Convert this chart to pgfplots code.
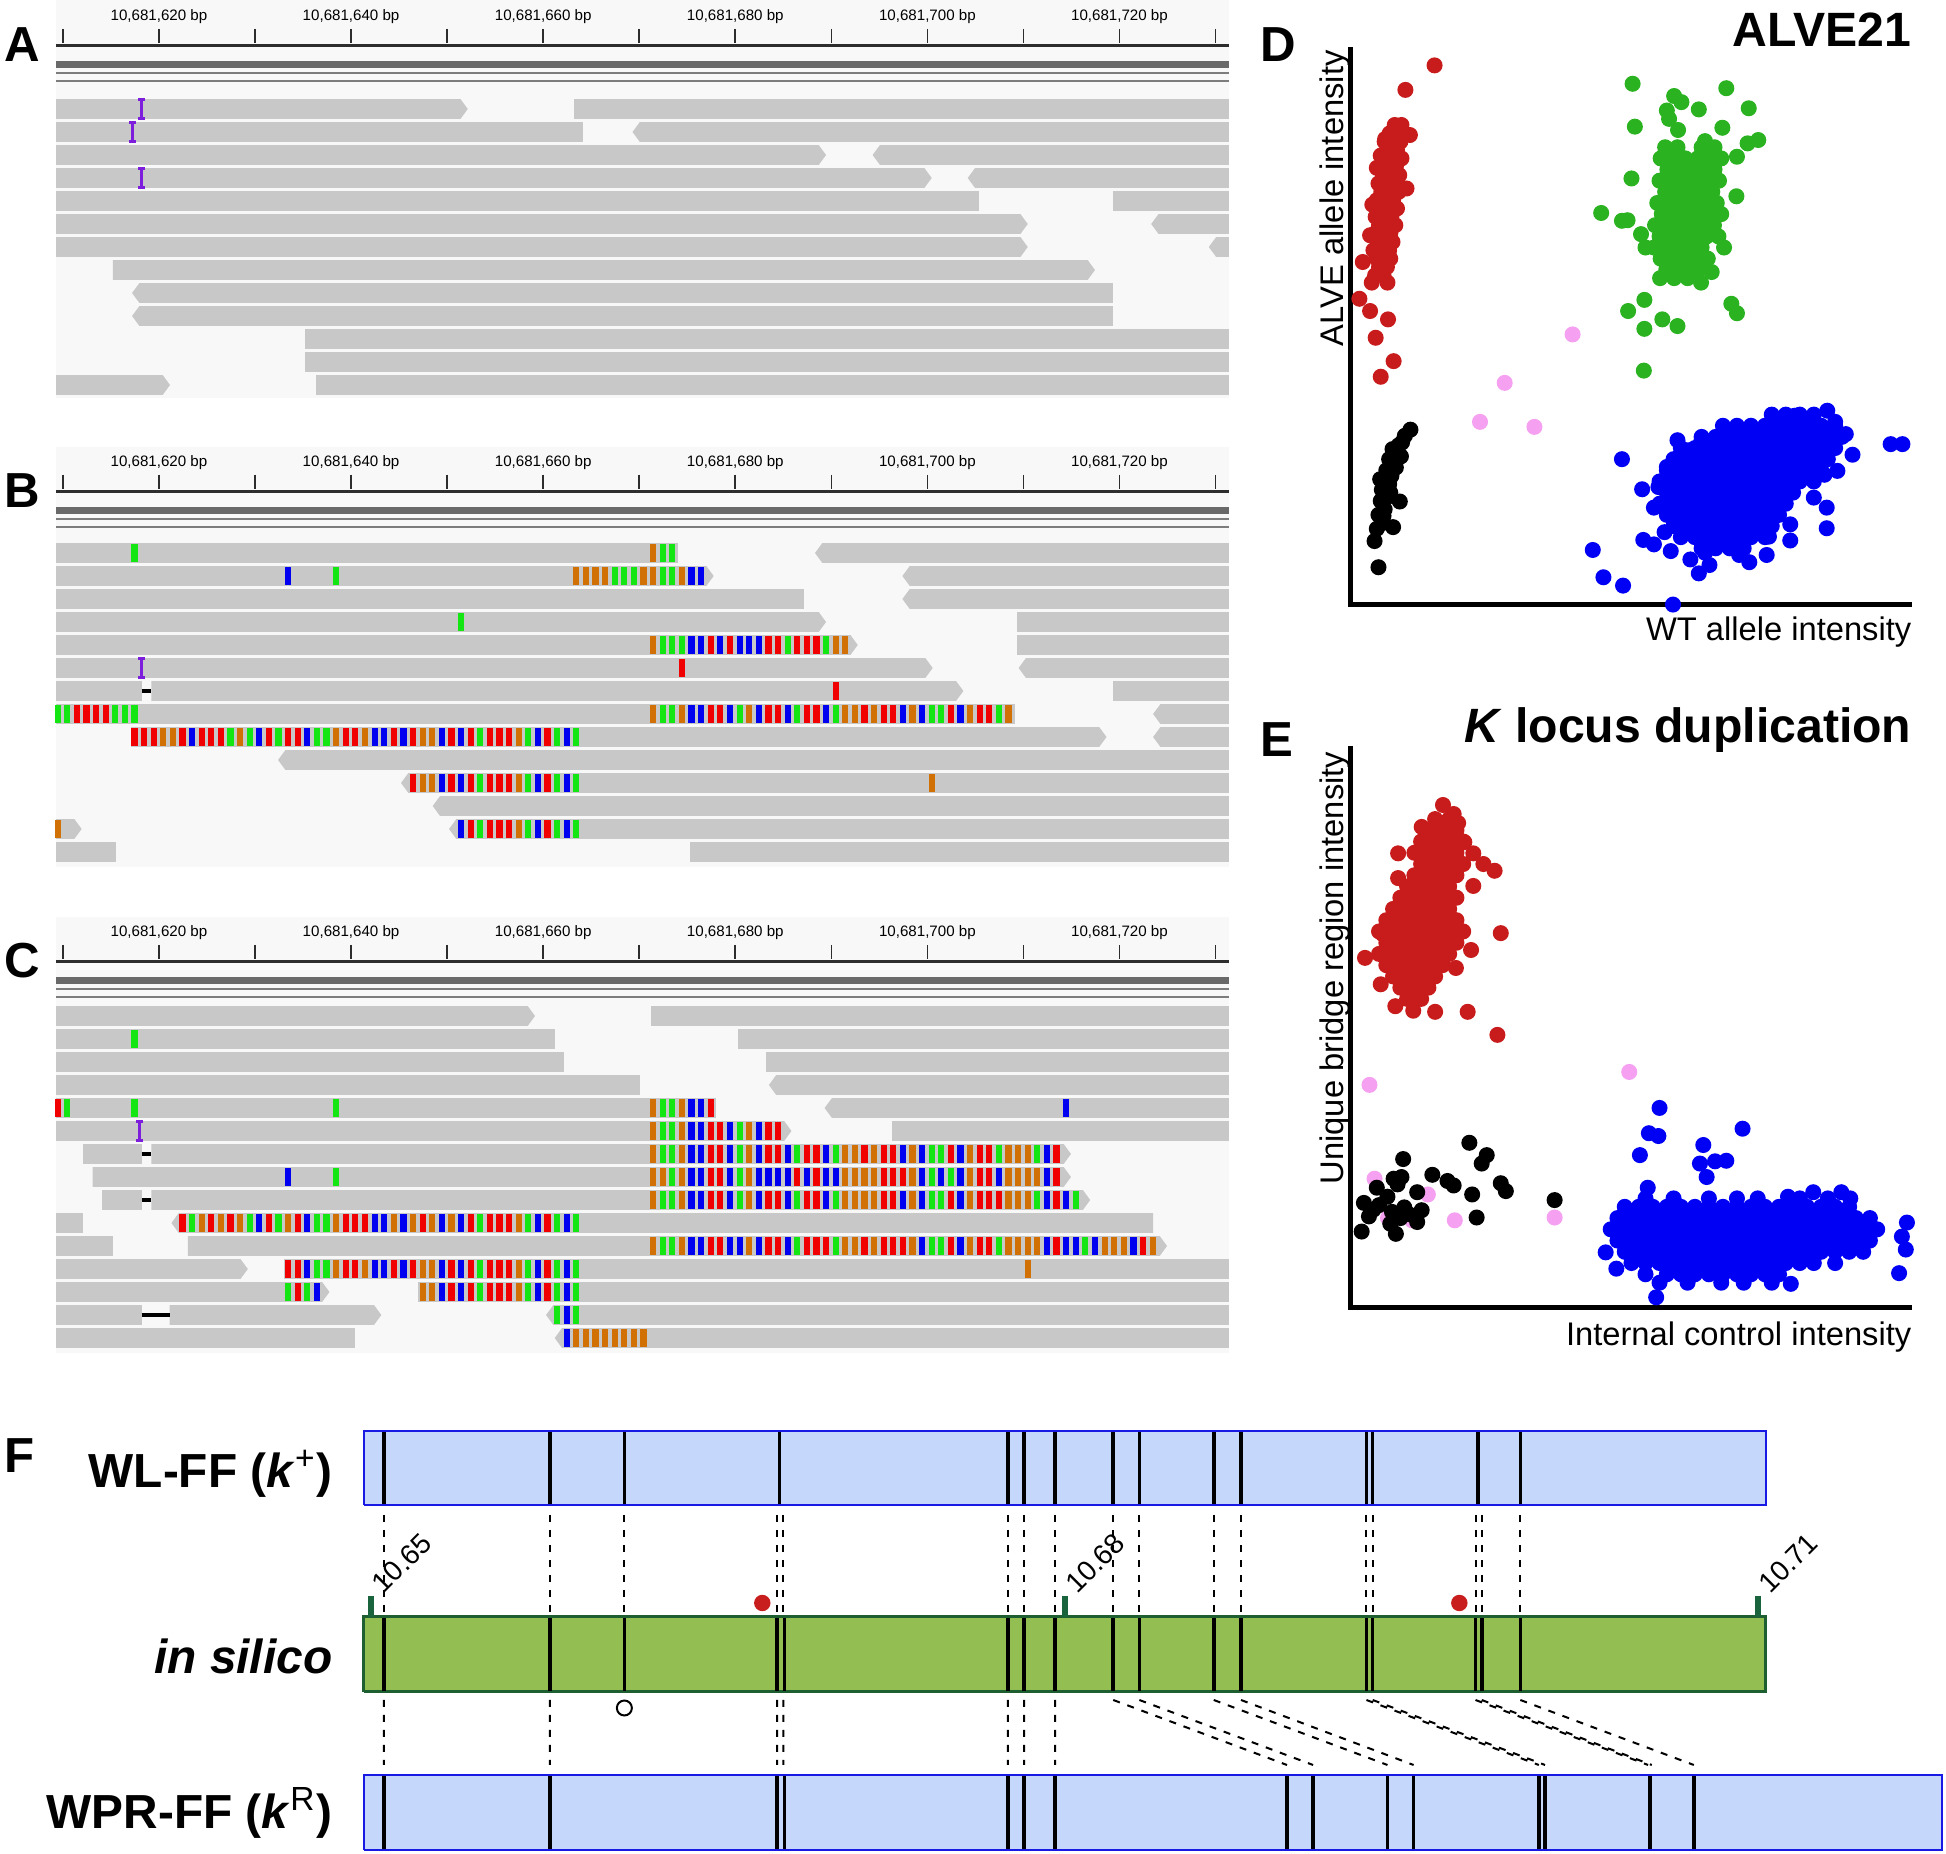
\documentclass[border=0pt]{standalone}
\usepackage{fontspec}
\setmainfont{Liberation Sans}
\usepackage{pgfplots}
\pgfplotsset{compat=1.18}
\definecolor{readgray}{RGB}{200,200,200}
\definecolor{bggray}{RGB}{248,248,248}
\definecolor{cA}{RGB}{20,230,20}
\definecolor{cC}{RGB}{0,0,240}
\definecolor{cO}{RGB}{209,113,5}
\definecolor{cT}{RGB}{240,0,0}
\definecolor{cI}{RGB}{125,30,220}
\definecolor{rulerdark}{RGB}{45,45,45}
\definecolor{bandgray}{RGB}{105,105,105}
\definecolor{linegray}{RGB}{125,125,125}
\definecolor{dRed}{RGB}{200,28,28}
\definecolor{dGreen}{RGB}{42,178,32}
\definecolor{dBlue}{RGB}{0,0,245}
\definecolor{dPink}{RGB}{245,160,240}
\definecolor{wlFill}{RGB}{197,215,250}
\definecolor{wlEdge}{RGB}{25,25,230}
\definecolor{isFill}{RGB}{147,190,82}
\definecolor{isEdge}{RGB}{30,95,50}
\definecolor{tickGreen}{RGB}{25,100,60}
\definecolor{dotRed}{RGB}{200,30,30}
\pgfplotsset{
 readst/.style={fill=readgray, draw=none},
 mm/.style={only marks, mark=|, mark size=0.88mm, mark options={line width=0.62mm}},
 dots/.style={only marks, mark=*, mark size=0.73mm, mark options={draw=none}},
}
\newcommand\tickfont{\fontsize{4.3}{5}\selectfont}
\newcommand\plet{\bfseries\fontsize{14}{16}\selectfont}
\newcommand\ttl{\bfseries\fontsize{13.7}{16}\selectfont}
\newcommand\lab{\fontsize{9.3}{11}\selectfont}
\newcommand\flab{\bfseries\fontsize{13.6}{16}\selectfont}
\newcommand\ftick{\fontsize{8}{9}\selectfont}
\makeatletter
\newcommand\rd[4]{%
  \pgfmathsetmacro\rd@ya{-#1-9.8}%
  \pgfmathsetmacro\rd@yb{-#1+9.8}%
  \pgfmathsetmacro\rd@yc{-#1}%
  \ifcase#4\relax
    \edef\my@tmp{\noexpand\addplot[readst] coordinates {(#2,\rd@ya)(#3,\rd@ya)(#3,\rd@yb)(#2,\rd@yb)};}%
  \or
    \pgfmathsetmacro\rd@xt{#3+0.75}%
    \edef\my@tmp{\noexpand\addplot[readst] coordinates {(#2,\rd@ya)(#3,\rd@ya)(\rd@xt,\rd@yc)(#3,\rd@yb)(#2,\rd@yb)};}%
  \or
    \pgfmathsetmacro\rd@xt{#2+0.75}%
    \edef\my@tmp{\noexpand\addplot[readst] coordinates {(#2,\rd@yc)(\rd@xt,\rd@ya)(#3,\rd@ya)(#3,\rd@yb)(\rd@xt,\rd@yb)};}%
  \fi
  \my@tmp}
\newcommand\rins[2]{%
  \pgfmathsetmacro\ri@a{-#1-9.3}\pgfmathsetmacro\ri@b{-#1+9.3}%
  \edef\my@tmp{\noexpand\addplot[color=cI, line width=0.3mm, mark=-, mark size=0.35mm, mark options={line width=0.3mm}] coordinates {(#2,\ri@a)(#2,\ri@b)};}\my@tmp}
\newcommand\rdel[3]{%
  \pgfmathsetmacro\rdl@y{-#1}%
  \edef\my@tmp{\noexpand\addplot[black, line width=0.32mm] coordinates {(#2,\rdl@y)(#3,\rdl@y)};}\my@tmp}
\def\resetbars{\gdef\bars@A{}\gdef\bars@C{}\gdef\bars@O{}\gdef\bars@T{}}
\newcommand\bseq[3]{%
  \pgfmathsetmacro\bs@x{#2+0.45}%
  \pgfmathsetmacro\bs@y{-#1}%
  \bs@loop#3\@nil}
\def\bs@loop#1{%
  \ifx#1\@nil
  \else
    \expandafter\xdef\csname bars@#1\endcsname{\csname bars@#1\endcsname(\bs@x,\bs@y)}%
    \pgfmathsetmacro\bs@x{\bs@x+1}%
    \expandafter\bs@loop
  \fi}
\newcommand\flushbars{%
  \edef\my@tmp{\noexpand\addplot[mm,color=cA] coordinates {\bars@A};}\my@tmp
  \edef\my@tmp{\noexpand\addplot[mm,color=cC] coordinates {\bars@C};}\my@tmp
  \edef\my@tmp{\noexpand\addplot[mm,color=cO] coordinates {\bars@O};}\my@tmp
  \edef\my@tmp{\noexpand\addplot[mm,color=cT] coordinates {\bars@T};}\my@tmp}
\makeatother
\begin{document}
\begin{tikzpicture}[x=0.1mm,y=0.1mm]
\useasboundingbox (0,0) rectangle (1946,1854);
%================ IGV panels A, B, C
\begin{axis}[at={(5.6mm,185.4mm)}, anchor=north west, scale only axis,
  width=117.3mm, height=136mm, xmin=609.28, xmax=731.4, ymin=-1360, ymax=0,
  hide axis, clip=false]
\resetbars
% ---- ruler A
\addplot[fill=bggray, draw=none] coordinates {(609.28,0)(731.4,0)(731.4,-398)(609.28,-398)};
\addplot[only marks, mark=|, mark size=0.7mm, mark options={line width=0.16mm}, color=rulerdark] coordinates {(610,-36)(620,-36)(630,-36)(640,-36)(650,-36)(660,-36)(670,-36)(680,-36)(690,-36)(700,-36)(710,-36)(720,-36)(730,-36)};
\addplot[rulerdark, line width=0.28mm] coordinates {(609.28,-45.5)(731.4,-45.5)};
\addplot[fill=bandgray, draw=none] coordinates {(609.28,-61.5)(731.4,-61.5)(731.4,-68.5)(609.28,-68.5)};
\addplot[linegray, line width=0.2mm] coordinates {(609.28,-73.3)(731.4,-73.3)};
\addplot[linegray, line width=0.2mm] coordinates {(609.28,-80.7)(731.4,-80.7)};
\node[anchor=base, font=\tickfont, inner sep=0] at (axis cs:620,-21) {10,681,620 bp};
\node[anchor=base, font=\tickfont, inner sep=0] at (axis cs:640,-21) {10,681,640 bp};
\node[anchor=base, font=\tickfont, inner sep=0] at (axis cs:660,-21) {10,681,660 bp};
\node[anchor=base, font=\tickfont, inner sep=0] at (axis cs:680,-21) {10,681,680 bp};
\node[anchor=base, font=\tickfont, inner sep=0] at (axis cs:700,-21) {10,681,700 bp};
\node[anchor=base, font=\tickfont, inner sep=0] at (axis cs:720,-21) {10,681,720 bp};
% ---- ruler B
\addplot[fill=bggray, draw=none] coordinates {(609.28,-447)(731.4,-447)(731.4,-867)(609.28,-867)};
\addplot[only marks, mark=|, mark size=0.7mm, mark options={line width=0.16mm}, color=rulerdark] coordinates {(610,-482)(620,-482)(630,-482)(640,-482)(650,-482)(660,-482)(670,-482)(680,-482)(690,-482)(700,-482)(710,-482)(720,-482)(730,-482)};
\addplot[rulerdark, line width=0.28mm] coordinates {(609.28,-491.5)(731.4,-491.5)};
\addplot[fill=bandgray, draw=none] coordinates {(609.28,-507.5)(731.4,-507.5)(731.4,-514.5)(609.28,-514.5)};
\addplot[linegray, line width=0.2mm] coordinates {(609.28,-519.3)(731.4,-519.3)};
\addplot[linegray, line width=0.2mm] coordinates {(609.28,-526.7)(731.4,-526.7)};
\node[anchor=base, font=\tickfont, inner sep=0] at (axis cs:620,-467) {10,681,620 bp};
\node[anchor=base, font=\tickfont, inner sep=0] at (axis cs:640,-467) {10,681,640 bp};
\node[anchor=base, font=\tickfont, inner sep=0] at (axis cs:660,-467) {10,681,660 bp};
\node[anchor=base, font=\tickfont, inner sep=0] at (axis cs:680,-467) {10,681,680 bp};
\node[anchor=base, font=\tickfont, inner sep=0] at (axis cs:700,-467) {10,681,700 bp};
\node[anchor=base, font=\tickfont, inner sep=0] at (axis cs:720,-467) {10,681,720 bp};
% ---- ruler C
\addplot[fill=bggray, draw=none] coordinates {(609.28,-917)(731.4,-917)(731.4,-1353)(609.28,-1353)};
\addplot[only marks, mark=|, mark size=0.7mm, mark options={line width=0.16mm}, color=rulerdark] coordinates {(610,-952)(620,-952)(630,-952)(640,-952)(650,-952)(660,-952)(670,-952)(680,-952)(690,-952)(700,-952)(710,-952)(720,-952)(730,-952)};
\addplot[rulerdark, line width=0.28mm] coordinates {(609.28,-961.5)(731.4,-961.5)};
\addplot[fill=bandgray, draw=none] coordinates {(609.28,-977.5)(731.4,-977.5)(731.4,-984.5)(609.28,-984.5)};
\addplot[linegray, line width=0.2mm] coordinates {(609.28,-989.3)(731.4,-989.3)};
\addplot[linegray, line width=0.2mm] coordinates {(609.28,-996.7)(731.4,-996.7)};
\node[anchor=base, font=\tickfont, inner sep=0] at (axis cs:620,-937) {10,681,620 bp};
\node[anchor=base, font=\tickfont, inner sep=0] at (axis cs:640,-937) {10,681,640 bp};
\node[anchor=base, font=\tickfont, inner sep=0] at (axis cs:660,-937) {10,681,660 bp};
\node[anchor=base, font=\tickfont, inner sep=0] at (axis cs:680,-937) {10,681,680 bp};
\node[anchor=base, font=\tickfont, inner sep=0] at (axis cs:700,-937) {10,681,700 bp};
\node[anchor=base, font=\tickfont, inner sep=0] at (axis cs:720,-937) {10,681,720 bp};
% ---- reads A
\rd{109}{609.3}{651.4}{1} \rd{109}{663.2}{731.4}{0}
\rd{132}{609.3}{664.1}{0} \rd{132}{669.3}{731.4}{2}
\rd{155}{609.3}{688.7}{1} \rd{155}{694.3}{731.4}{2}
\rd{178}{609.3}{699.7}{1} \rd{178}{704.2}{731.4}{2}
\rd{201}{609.3}{705.4}{0} \rd{201}{719.3}{731.4}{0}
\rd{224}{609.3}{709.7}{1} \rd{224}{723.3}{731.4}{2}
\rd{247}{609.3}{709.7}{1} \rd{247}{729.3}{731.4}{2}
\rd{270}{615.2}{716.7}{1}
\rd{293}{617.2}{719.3}{2}
\rd{316}{617.2}{719.3}{2}
\rd{339}{635.2}{731.4}{0}
\rd{362}{635.2}{731.4}{0}
\rd{385}{609.3}{620.4}{1} \rd{385}{636.3}{731.4}{0}
\rins{109}{618.2} \rins{132}{617.2} \rins{178}{618.2}
% ---- reads B
\rd{553}{609.3}{674.0}{0} \rd{553}{688.3}{731.4}{2}
\rd{576}{609.3}{677.0}{1} \rd{576}{697.4}{731.4}{2}
\rd{599}{609.3}{687.2}{0} \rd{599}{697.4}{731.4}{2}
\rd{622}{609.3}{688.7}{1} \rd{622}{709.3}{731.4}{0}
\rd{645}{609.3}{692.0}{1} \rd{645}{709.3}{731.4}{0}
\rd{668}{609.3}{699.8}{1} \rd{668}{709.5}{731.4}{2}
\rd{691}{609.3}{618.2}{0} \rd{691}{619.2}{703.0}{1} \rd{691}{719.3}{731.4}{0}
\rd{714}{609.3}{709.1}{0} \rd{714}{723.5}{731.4}{2}
\rd{737}{617.1}{717.9}{1} \rd{737}{723.5}{731.4}{2}
\rd{760}{632.4}{731.4}{2}
\rd{783}{645.2}{731.4}{2}
\rd{806}{648.5}{731.4}{2}
\rd{829}{609.3}{611.2}{1} \rd{829}{650.2}{731.4}{2}
\rd{852}{609.3}{615.5}{0} \rd{852}{675.3}{731.4}{0}
\rins{668}{618.2} \rdel{691}{618.2}{619.2}
\bseq{553}{617}{A} \bseq{553}{671}{OAA}
\bseq{576}{633}{C} \bseq{576}{638}{A} \bseq{576}{663}{OOOOAAAOOAAOCC}
\bseq{622}{651}{A}
\bseq{645}{671}{OAAACCTCTCCCTTATTTAOO}
\bseq{668}{674}{T}
\bseq{691}{690}{T}
\bseq{714}{609}{AATTTTAAA} \bseq{714}{671}{OAAOCCTTCAOCTTCATTCAOOTOTTCOCAATCOTTAO}
\bseq{737}{617}{TTTOOTCTTTAOACTATTCAAOTTOCCTCTOOCTCTATTTOACTACA}
\bseq{783}{646}{TOOCTCTATTTOACTACA} \bseq{783}{700}{O}
\bseq{829}{609}{O} \bseq{829}{651}{CTATTTOACTACA}
% ---- reads C
\rd{1016}{609.3}{658.4}{1} \rd{1016}{671.2}{731.4}{0}
\rd{1039}{609.3}{661.2}{0} \rd{1039}{680.3}{731.4}{0}
\rd{1062}{609.3}{662.2}{0} \rd{1062}{683.2}{731.4}{0}
\rd{1085}{609.3}{670.1}{0} \rd{1085}{683.5}{731.4}{2}
\rd{1108}{609.3}{678.0}{0} \rd{1108}{689.3}{731.4}{2}
\rd{1131}{609.3}{685.1}{1} \rd{1131}{696.3}{731.4}{0}
\rd{1154}{612.1}{618.2}{0} \rd{1154}{619.2}{714.2}{1}
\rd{1177}{613.1}{714.2}{1}
\rd{1200}{614.1}{618.2}{0} \rd{1200}{619.2}{716.2}{1}
\rd{1223}{609.3}{612.1}{0} \rd{1223}{621.3}{723.5}{2}
\rd{1246}{609.3}{615.2}{0} \rd{1246}{623.0}{724.2}{1}
\rd{1269}{609.3}{628.5}{1} \rd{1269}{633.0}{731.4}{0}
\rd{1292}{609.3}{637.0}{1} \rd{1292}{647.0}{731.4}{0}
\rd{1315}{609.3}{618.2}{0} \rd{1315}{621.1}{642.4}{1} \rd{1315}{660.3}{731.4}{2}
\rd{1338}{609.3}{640.4}{0} \rd{1338}{661.2}{731.4}{2}
\rins{1131}{618.0}
\rdel{1154}{618.2}{619.2} \rdel{1200}{618.2}{619.2} \rdel{1315}{618.2}{621.1}
\bseq{1039}{617}{A}
\bseq{1108}{609}{TA} \bseq{1108}{617}{A} \bseq{1108}{638}{A} \bseq{1108}{671}{OAAOCCT} \bseq{1108}{714}{C}
\bseq{1131}{671}{OAAOCCTTCAOCTT}
\bseq{1154}{671}{OAAOCCTTCAOCTTCATTCAOOTOTTCOCAATCOTTAOOOACT}
\bseq{1177}{633}{C} \bseq{1177}{638}{A} \bseq{1177}{671}{OOAOCCTTCAOCCCCTCTCCOOOOTTTOCACACOTTCOOOOCT}
\bseq{1200}{671}{OAAOCCTTCAOCTTCATTCAOOOOTTCOCAATCOTTTOOOACTCA}
\bseq{1223}{622}{TAOTOTOACTAOTCAAOTTTCCOCOTOCOCTATTTOACTACA}
\bseq{1246}{671}{OAAOCCTTCCOCTTCATTTAOOTOTTTOCAATCOTTAOOOOCTCCACOOOCTO}
\bseq{1269}{633}{TTCAAOTTOCCTCTOOCTCTATTTOACTACA} \bseq{1269}{710}{O}
\bseq{1292}{633}{ATAC} \bseq{1292}{647}{OOCTCTATTTOACTACA}
\bseq{1315}{661}{ACA}
\bseq{1338}{662}{COOOOOOOO}
\flushbars
\end{axis}
%================ D
\begin{axis}[at={(135.1mm,125.0mm)}, anchor=south west, scale only axis,
  width=56.1mm, height=55.7mm, xmin=0, xmax=100, ymin=0, ymax=100, hide axis, clip=false]
\addplot[black, line width=0.5mm] coordinates {(0,100)(0,0)(100,0)};
\addplot[dots, color=dRed] coordinates {(14.9,96.7)(9.7,92.3)(8.4,85.7)(10.5,84.2)(6.1,83.5)(5.3,80.5)(4.6,78.3)(9.9,74.6)(3.8,71.7)(3.4,66.2)(2.1,61.4)(3.7,57.7)(6.5,57.7)(1.5,54.8)(3.4,52.6)(6.6,51.1)(4.4,47.8)(7.6,43.6)(5.3,40.8)
(7.8,86)(9.0,86)(6.9,84.5)(8.6,84.5)(7.2,83)(8.8,83)(6.0,83)(6.5,81.5)(8.2,81.5)(7.4,81.5)(5.9,80)(7.6,80)(9.0,80)(6.4,78.5)(8.0,78.5)(5.2,78.5)(5.7,77)(7.2,77)(8.6,77)(6.2,75.5)(7.8,75.5)(4.9,75.5)(5.4,74)(7.0,74)(8.5,74)(6.0,72.5)(7.5,72.5)(4.6,72.5)(5.1,71)(6.8,71)(8.2,71)(5.8,69.5)(7.2,69.5)(4.4,69.5)(5.0,68)(6.6,68)(7.9,68)(5.6,66.5)(7.0,66.5)(4.2,66.5)(4.8,65)(6.3,65)(7.4,65)(5.3,63.5)(6.8,63.5)(4.0,63.5)(4.6,62)(6.0,62)(7.0,62)(5.0,60.5)(6.4,60.5)(5.8,59)(4.3,59)};
\addplot[dots, color=dGreen] coordinates {(50.2,93.4)(66.9,92.6)(57.6,91.2)(58.9,90.1)(62.0,88.8)(70.9,89.0)(56.3,88.6)(50.6,85.7)(66.2,85.5)(70.7,82.7)(72.6,83.3)(68.8,80.3)(50.0,76.4)(68.7,73.2)(44.6,70.2)(48.3,68.8)(49.3,68.9)(51.7,66.4)(52.5,64.0)(66.5,64.0)(64.3,59.6)(62.4,57.7)(55.1,58.5)(52.3,54.6)(49.4,52.6)(55.5,51.1)(58.2,49.9)(52.3,49.4)(67.8,53.9)(68.8,52.2)(52.2,41.9)(56.7,87.1)(58.3,85.1)(63.1,83.1)
(56.0,82)(58.2,82)(62.5,82)(64.8,82)(55.2,80)(57.5,80)(59.6,80)(61.8,80)(63.9,80)(66.0,80)(56.4,78)(58.5,78)(60.6,78)(62.7,78)(64.8,78)(55.0,76)(57.2,76)(59.3,76)(61.4,76)(63.5,76)(65.6,76)(56.0,74)(58.1,74)(60.2,74)(62.3,74)(64.4,74)(54.6,72)(56.8,72)(58.9,72)(61.0,72)(63.1,72)(65.2,72)(55.4,70)(57.5,70)(59.6,70)(61.7,70)(63.8,70)(66.0,70)(54.2,68)(56.3,68)(58.4,68)(60.5,68)(62.6,68)(64.7,68)(55.0,66)(57.1,66)(59.2,66)(61.3,66)(63.4,66)(65.5,66)(54.0,64)(56.2,64)(58.3,64)(60.4,64)(62.5,64)(55.2,62)(57.3,62)(59.4,62)(61.5,62)(63.6,62)(56.2,60)(58.2,60)(60.3,60)(62.0,60)(57.6,58.5)(60.0,58.5)};
\addplot[dots, color=dPink] coordinates {(39.5,48.4)(27.4,39.7)(23.0,32.7)(32.7,31.8)};
\addplot[dots, color=black] coordinates {(4.9,6.6)(4.2,11.3)(7.5,13.8)(8.7,18.4)(10.6,31.3)(9.1,29.0)(4.6,13.5)(5.5,14.5)(4.9,16.0)(6.0,17.0)(5.3,18.5)(6.5,19.2)(5.5,20.5)(6.8,21.5)(5.2,22.4)(7.2,23.0)(6.3,24.0)(7.6,25.0)(6.8,26.0)(8.0,27.0)(7.4,27.8)(8.5,28.5)(8.0,24.5)(9.6,30.2)(6.2,22.0)(7.0,20.0)(5.8,15.8)(8.9,26.5)};
\addplot[dots, color=dBlue] coordinates {(48.3,26.0)(51.9,20.6)(43.1,9.7)(45.0,4.8)(48.5,3.3)(57.4,-0.1)(96.2,28.7)(98.3,28.7)(84.9,34.7)(89.4,26.8)(86.7,23.9)(84.8,17.3)(84.8,13.6)(78.3,11.4)(74.1,8.8)(62.0,5.5)(63.9,7.0)(52.1,11.5)(58.2,29.4)
(56.3,24.6)(54.8,21.0)(54.0,17.3)(55.9,12.9)(54.0,10.7)(63.1,9.2)(69.2,8.8)(74.5,12.1)(78.3,14.3)(82.5,19.1)(84.4,23.2)(88.2,30.5)(86.3,32.7)(79.1,33.8)(81.4,32.0)(66.2,30.5)(62.4,29.0)(60.1,27.6)(71.0,7.5)(60.5,8.0)(57.0,9.5)
(75,34)(77.5,34)(80,34)(82.5,34)
(66.3,32)(68.8,32)(71.3,32)(73.8,32)(76.3,32)(78.8,32)(81.3,32)(83.8,32)(86.3,32)
(62.5,30)(65,30)(67.5,30)(70,30)(72.5,30)(75,30)(77.5,30)(80,30)(82.5,30)(85,30)(87.5,30)
(58.8,28)(61.3,28)(63.8,28)(66.3,28)(68.8,28)(71.3,28)(73.8,28)(76.3,28)(78.8,28)(81.3,28)(83.8,28)(86.3,28)
(57.5,26)(60,26)(62.5,26)(65,26)(67.5,26)(70,26)(72.5,26)(75,26)(77.5,26)(80,26)(82.5,26)(85,26)
(56.3,24)(58.8,24)(61.3,24)(63.8,24)(66.3,24)(68.8,24)(71.3,24)(73.8,24)(76.3,24)(78.8,24)(81.3,24)(83.8,24)
(55,22)(57.5,22)(60,22)(62.5,22)(65,22)(67.5,22)(70,22)(72.5,22)(75,22)(77.5,22)(80,22)(82.5,22)
(56.3,20)(58.8,20)(61.3,20)(63.8,20)(66.3,20)(68.8,20)(71.3,20)(73.8,20)(76.3,20)(78.8,20)
(55,18)(57.5,18)(60,18)(62.5,18)(65,18)(67.5,18)(70,18)(72.5,18)(75,18)(77.5,18)
(56.3,16)(58.8,16)(61.3,16)(63.8,16)(66.3,16)(68.8,16)(71.3,16)(73.8,16)(76.3,16)
(57.5,14)(60,14)(62.5,14)(65,14)(67.5,14)(70,14)(72.5,14)(75,14)
(58.8,12)(61.3,12)(63.8,12)(66.3,12)(68.8,12)(71.3,12)(73.8,12)
(62.5,10)(65,10)(67.5,10)(70,10)};
\node[rotate=90, anchor=base east, font=\lab, inner sep=0] at (axis cs:-1.4,99.5) {ALVE allele intensity};
\node[anchor=base east, font=\lab, inner sep=0] at (axis cs:100,-6.6) {WT allele intensity};
\end{axis}
%================ E
\begin{axis}[at={(135.1mm,54.6mm)}, anchor=south west, scale only axis,
  width=56.1mm, height=56.2mm, xmin=0, xmax=100, ymin=0, ymax=100, hide axis, clip=false]
\addplot[black, line width=0.5mm] coordinates {(0,100)(0,0)(100,0)};
\addplot[dots, color=dRed] coordinates {(16.4,89.5)(18.3,87.9)(19.1,86.3)(12.6,85.6)(8.4,80.9)(20.2,82.9)(21.8,80.9)(23.6,79.0)(25.6,77.8)(21.8,75.1)(8.4,76.5)(26.7,66.7)(21.4,63.7)(2.5,62.3)(5.7,66.5)(5.3,57.6)(7.9,53.7)(11.1,52.9)(15.0,52.7)(20.8,52.7)(26.1,48.6)(18.7,60.5)
(15,87)(17.5,87)(13.8,85)(16.3,85)(18.8,85)(12.5,83)(15,83)(17.5,83)(20,83)(11.3,81)(13.8,81)(16.3,81)(18.8,81)(12.5,79)(15,79)(17.5,79)(20,79)(11.3,77)(13.8,77)(16.3,77)(18.8,77)(10,75)(12.5,75)(15,75)(17.5,75)(8.8,73)(11.3,73)(13.8,73)(16.3,73)(18.8,73)(7.5,71)(10,71)(12.5,71)(15,71)(17.5,71)(6.3,69)(8.8,69)(11.3,69)(13.8,69)(16.3,69)(18.8,69)(5,67)(7.5,67)(10,67)(12.5,67)(15,67)(17.5,67)(20,67)(6.3,65)(8.8,65)(11.3,65)(13.8,65)(16.3,65)(18.8,65)(5,63)(7.5,63)(10,63)(12.5,63)(15,63)(17.5,63)(6.3,61)(8.8,61)(11.3,61)(13.8,61)(16.3,61)(7.5,59)(10,59)(12.5,59)(15,59)(8.8,57)(11.3,57)(13.8,57)(10,55)(12.5,55)};
\addplot[dots, color=dPink] coordinates {(3.3,39.7)(49.6,42.0)(4.2,23.0)(13.7,20.2)(6.6,16.0)(10.9,15.6)(18.5,15.6)(36.3,16.1)};
\addplot[dots, color=black] coordinates {(21.1,29.4)(24.2,27.2)(23.3,25.7)(9.3,26.5)(14.5,23.7)(17.2,22.6)(18.3,21.8)(7.6,23.0)(9.0,23.3)(4.6,21.4)(26.7,22.2)(27.6,20.8)(21.6,20.2)(11.8,20.6)(36.3,19.2)(2.3,18.7)(5.0,18.3)(7.3,17.1)(9.5,17.9)(12.6,17.4)(3.2,16.3)(8.8,16.0)(11.8,15.3)(22.4,16.1)(1.9,13.6)(8.0,13.2)(10.3,16.7)(6.5,19.8)(8.3,22.0)(4.0,17.5)(7.0,15.0)};
\addplot[dots, color=dBlue] coordinates {(55.0,35.6)(53.1,31.1)(54.8,30.6)(51.5,27.2)(69.8,31.9)(62.8,29.0)(62.2,25.7)(64.9,26.1)(66.9,26.2)(63.4,23.3)(52.9,21.4)(77.9,19.8)(82.4,20.6)(87.4,20.6)(99.1,15.2)(98.2,12.7)(98.9,10.4)(97.7,6.2)(54.4,1.9)(78.4,4.3)(45.4,9.9)(47.3,7.0)
(52.5,19.5)(57.5,19.5)(63.8,19.5)(68.8,19.5)(72.5,19.5)(80,19.5)(85,19.5)(89,19.5)
(48.8,18)(51.3,18)(53.8,18)(56.3,18)(58.8,18)(61.3,18)(63.8,18)(66.3,18)(68.8,18)(71.3,18)(73.8,18)(76.3,18)(78.8,18)(81.3,18)(83.8,18)(86.3,18)(88.8,18)
(47.5,16)(50,16)(52.5,16)(55,16)(57.5,16)(60,16)(62.5,16)(65,16)(67.5,16)(70,16)(72.5,16)(75,16)(77.5,16)(80,16)(82.5,16)(85,16)(87.5,16)(90,16)(92.5,16)
(46.3,14)(48.8,14)(51.3,14)(53.8,14)(56.3,14)(58.8,14)(61.3,14)(63.8,14)(66.3,14)(68.8,14)(71.3,14)(73.8,14)(76.3,14)(78.8,14)(81.3,14)(83.8,14)(86.3,14)(88.8,14)(91.3,14)(93.8,14)
(47.5,12)(50,12)(52.5,12)(55,12)(57.5,12)(60,12)(62.5,12)(65,12)(67.5,12)(70,12)(72.5,12)(75,12)(77.5,12)(80,12)(82.5,12)(85,12)(87.5,12)(90,12)(92.5,12)
(48.8,10)(51.3,10)(53.8,10)(56.3,10)(58.8,10)(61.3,10)(63.8,10)(66.3,10)(68.8,10)(71.3,10)(73.8,10)(76.3,10)(78.8,10)(81.3,10)(83.8,10)(86.3,10)(88.8,10)(91.3,10)
(50,8)(52.5,8)(55,8)(57.5,8)(60,8)(62.5,8)(65,8)(67.5,8)(70,8)(72.5,8)(75,8)(77.5,8)(80,8)(82.5,8)(86.3,8)
(52.5,6)(56.3,6)(58.8,6)(61.3,6)(63.8,6)(66.3,6)(68.8,6)(71.3,6)(73.8,6)(76.3,6)
(55,4.5)(60,4.5)(66,4.5)(70,4.5)(75,4.5)};
\node[rotate=90, anchor=base east, font=\lab, inner sep=0] at (axis cs:-1.4,99.1) {Unique bridge region intensity};
\node[anchor=base east, font=\lab, inner sep=0] at (axis cs:100,-6.6) {Internal control intensity};
\end{axis}
%================ F
\begin{axis}[at={(36.4mm,0mm)}, anchor=south west, scale only axis,
  width=157.8mm, height=43.4mm, xmin=-0.32, xmax=67.98, ymin=0, ymax=434, hide axis, clip=false]
\addplot[fill=wlFill, draw=wlEdge, line width=0.28mm] coordinates {(-0.32,349)(60.36,349)(60.36,423)(-0.32,423)(-0.32,349)};
\addplot[fill=isFill, draw=isEdge, line width=0.3mm] coordinates {(-0.32,162)(60.36,162)(60.36,237)(-0.32,237)(-0.32,162)};
\addplot[fill=wlFill, draw=wlEdge, line width=0.28mm] coordinates {(-0.32,4)(67.98,4)(67.98,79)(-0.32,79)(-0.32,4)};
\addplot[only marks, mark=|, mark size=3.6mm, mark options={line width=0.35mm}, color=black] coordinates {(0.54,386)(7.73,386)(10.95,386)(17.67,386)(27.55,386)(28.25,386)(29.59,386)(32.11,386)(33.24,386)(36.46,386)(37.64,386)(43.07,386)(43.34,386)(47.90,386)(49.73,386)};
\addplot[only marks, mark=|, mark size=3.65mm, mark options={line width=0.35mm}, color=black] coordinates {(0.54,199.5)(7.73,199.5)(10.95,199.5)(17.56,199.5)(17.88,199.5)(27.55,199.5)(28.25,199.5)(29.59,199.5)(32.11,199.5)(33.24,199.5)(36.46,199.5)(37.64,199.5)(43.07,199.5)(43.34,199.5)(47.79,199.5)(48.06,199.5)(49.73,199.5)};
\addplot[only marks, mark=|, mark size=3.65mm, mark options={line width=0.35mm}, color=black] coordinates {(0.54,41.5)(7.73,41.5)(17.56,41.5)(17.88,41.5)(27.55,41.5)(28.25,41.5)(29.59,41.5)(39.63,41.5)(40.76,41.5)(43.98,41.5)(45.11,41.5)(50.53,41.5)(50.80,41.5)(55.34,41.5)(57.24,41.5)};
\addplot[black, line width=0.2mm, dash pattern=on 0.7mm off 0.8mm, unbounded coords=jump] coordinates {(0.54,339)(0.54,241)(0.54,nan)(7.73,339)(7.73,241)(7.73,nan)(10.95,339)(10.95,241)(10.95,nan)(17.56,339)(17.56,241)(17.56,nan)(17.83,339)(17.83,241)(17.83,nan)(27.55,339)(27.55,241)(27.55,nan)(28.25,339)(28.25,241)(28.25,nan)(29.59,339)(29.59,241)(29.59,nan)(32.11,339)(32.11,241)(32.11,nan)(33.24,339)(33.24,241)(33.24,nan)(36.46,339)(36.46,241)(36.46,nan)(37.64,339)(37.64,241)(37.64,nan)(43.07,339)(43.07,241)(43.07,nan)(43.34,339)(43.34,241)(43.34,nan)(47.79,339)(47.79,241)(47.79,nan)(48.06,339)(48.06,241)(48.06,nan)(49.73,339)(49.73,241)};
\addplot[black, line width=0.2mm, dash pattern=on 0.7mm off 0.8mm, unbounded coords=jump] coordinates {(0.54,154)(0.54,89)(0.54,nan)(7.73,154)(7.73,89)(7.73,nan)(17.56,154)(17.56,89)(17.56,nan)(17.83,154)(17.83,89)(17.83,nan)(27.55,154)(27.55,89)(27.55,nan)(28.25,154)(28.25,89)(28.25,nan)(29.59,154)(29.59,89)(29.59,nan)(32.11,154)(39.63,89)(39.63,nan)(33.24,154)(40.76,89)(40.76,nan)(36.46,154)(43.98,89)(43.98,nan)(37.64,154)(45.11,89)(45.11,nan)(43.07,154)(50.53,89)(50.53,nan)(43.34,154)(50.80,89)(50.80,nan)(47.79,154)(55.26,89)(55.26,nan)(48.06,154)(55.42,89)(55.42,nan)(49.73,154)(57.24,89)};
\addplot[tickGreen, line width=0.6mm, unbounded coords=jump] coordinates {(0,237)(0,258)(0,nan)(30,237)(30,258)(30,nan)(60,237)(60,258)};
\addplot[only marks, mark=*, mark size=0.75mm, mark options={draw=none}, color=dotRed] coordinates {(16.92,251)(47.09,251)};
\addplot[only marks, mark=o, mark size=0.75mm, mark options={line width=0.2mm}, color=black] coordinates {(10.95,146)};
\node[rotate=45, anchor=south west, font=\ftick, inner sep=0] at (axis cs:0.55,258) {10.65};
\node[rotate=45, anchor=south west, font=\ftick, inner sep=0] at (axis cs:30.55,258) {10.68};
\node[rotate=45, anchor=south west, font=\ftick, inner sep=0] at (axis cs:60.55,258) {10.71};
\end{axis}
%================ texts
\node[anchor=base west, inner sep=0, font=\plet] at (4,1792) {A};
\node[anchor=base west, inner sep=0, font=\plet] at (4,1346) {B};
\node[anchor=base west, inner sep=0, font=\plet] at (4,876) {C};
\node[anchor=base west, inner sep=0, font=\plet] at (1260,1792) {D};
\node[anchor=base west, inner sep=0, font=\plet] at (1260,1097) {E};
\node[anchor=base west, inner sep=0, font=\plet] at (4,381) {F};
\node[anchor=base east, inner sep=0, font=\ttl] at (1912,1807) {ALVE21};
\node[anchor=base east, inner sep=0, font=\ttl] at (1912,1111) {\textit{K} locus duplication};
\node[anchor=base east, inner sep=0, font=\flab] at (333,366) {WL-FF (\textit{k}\textsuperscript{\mdseries +})};
\node[anchor=base east, inner sep=0, font=\flab] at (333,180) {\textit{in silico}};
\node[anchor=base east, inner sep=0, font=\flab] at (333,25) {WPR-FF (\textit{k}\textsuperscript{\mdseries R})};
\end{tikzpicture}
\end{document}
